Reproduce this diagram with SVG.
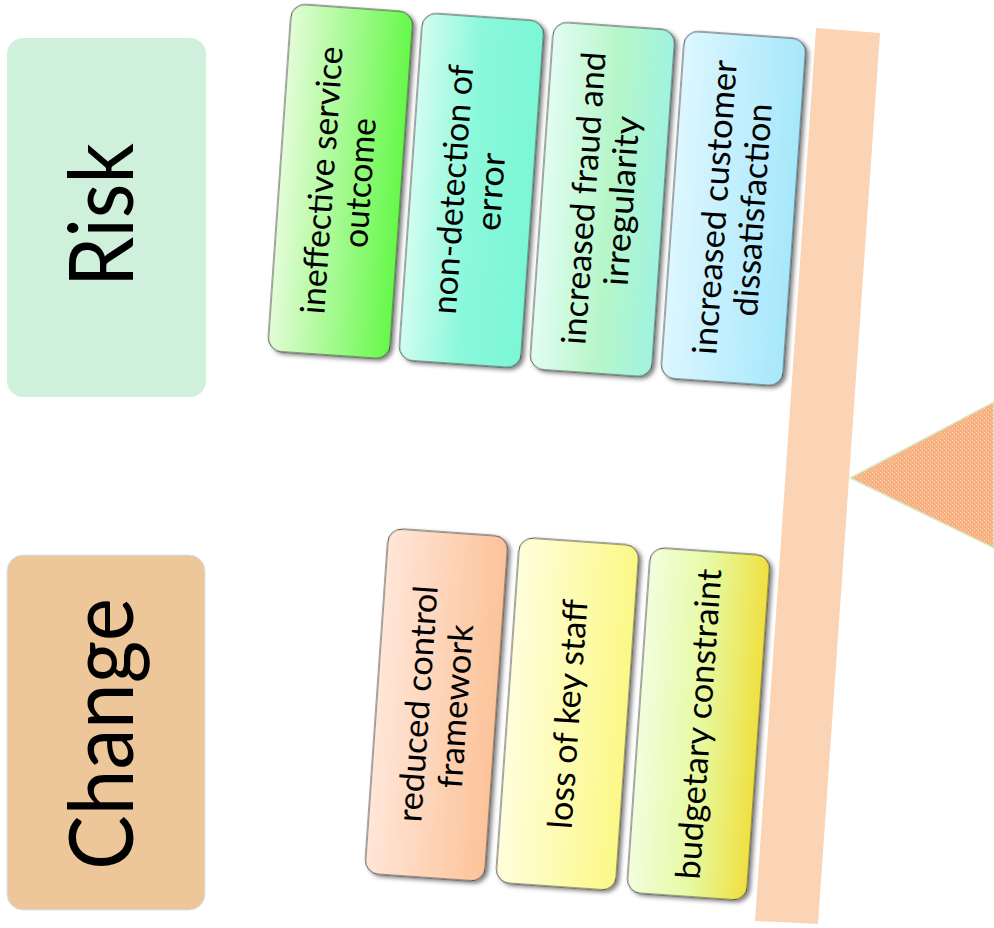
<svg xmlns="http://www.w3.org/2000/svg" width="994" height="928" viewBox="0 0 994 928">
<defs>
<style>
.lbl{font-family:Lato,"Open Sans","Liberation Sans",sans-serif;font-size:34px;fill:#000;text-anchor:middle}
.big{font-family:Lato,"Open Sans","Liberation Sans",sans-serif;font-size:90px;fill:#000;text-anchor:middle}
.item{stroke:#3a3a3a;stroke-width:0.9;filter:url(#sh)}
</style>
<filter id="sh" x="-15%" y="-10%" width="135%" height="125%">
<feDropShadow dx="3" dy="2" stdDeviation="2" flood-color="#000" flood-opacity="0.5"/>
</filter>
<pattern id="dots" width="4" height="4" patternUnits="userSpaceOnUse">
<rect width="4" height="4" fill="#F8B282"/>
<rect x="0" y="0" width="1" height="1" fill="#FCD6BC"/>
<rect x="2" y="2" width="1" height="1" fill="#FCD6BC"/>
</pattern>
<linearGradient id="g1" x1="0" y1="0" x2="1" y2="0"><stop offset="0" stop-color="#E4FCD8"/><stop offset="1" stop-color="#66F84A"/></linearGradient>
<linearGradient id="g2" x1="0" y1="0" x2="1" y2="0"><stop offset="0" stop-color="#D2FDF0"/><stop offset="0.5" stop-color="#8AF8DA"/><stop offset="1" stop-color="#7CF7D6"/></linearGradient>
<linearGradient id="g3" x1="0" y1="0" x2="1" y2="0"><stop offset="0" stop-color="#E2FDF3"/><stop offset="0.55" stop-color="#B6F6C8"/><stop offset="1" stop-color="#A0F3E0"/></linearGradient>
<linearGradient id="g4" x1="0" y1="0" x2="1" y2="0"><stop offset="0" stop-color="#DDF7FF"/><stop offset="1" stop-color="#A6E7FB"/></linearGradient>
<linearGradient id="g5" x1="0" y1="0" x2="1" y2="0"><stop offset="0" stop-color="#FFE6D8"/><stop offset="1" stop-color="#FCC399"/></linearGradient>
<linearGradient id="g6" x1="0" y1="0" x2="1" y2="0"><stop offset="0" stop-color="#FFFEDC"/><stop offset="1" stop-color="#FBF886"/></linearGradient>
<linearGradient id="g7" x1="0" y1="0" x2="1" y2="0"><stop offset="0" stop-color="#F2FEDE"/><stop offset="0.5" stop-color="#E6FAA4"/><stop offset="1" stop-color="#F0E040"/></linearGradient>
</defs>
<rect width="994" height="928" fill="#fff"/>
<g id="beam"><polygon points="816,28 880,33 818,924 755,921" fill="#FBD4B6"/></g>
<g id="fulcrum"><polygon points="850,478 994,402 994,548" fill="url(#dots)" stroke="#D6EDC6" stroke-width="1.5"/></g>
<g id="risk">
<rect x="7" y="38" width="199" height="359" rx="16" fill="#CFF0DB"/>
<text class="big" transform="translate(133,215) rotate(-90)" textLength="144" lengthAdjust="spacingAndGlyphs">Risk</text>
</g>
<g id="change">
<rect x="7" y="555" width="198" height="355" rx="16" fill="#EDC699" stroke="#D4E6EE" stroke-width="1"/>
<text class="big" transform="translate(133,734) rotate(-90)" textLength="272" lengthAdjust="spacingAndGlyphs">Change</text>
</g>
<g id="r1" transform="translate(340.5,181.5) rotate(4)">
<rect class="item" x="-61" y="-174" width="122" height="348" rx="14" fill="url(#g1)"/>
<text class="lbl" transform="rotate(-90)"><tspan x="0" y="-7" textLength="268" lengthAdjust="spacingAndGlyphs">ineffective service</tspan><tspan x="0" y="31" textLength="130" lengthAdjust="spacingAndGlyphs">outcome</tspan></text>
</g>
<g id="r2" transform="translate(471.5,190.5) rotate(4)">
<rect class="item" x="-61" y="-174" width="122" height="348" rx="14" fill="url(#g2)"/>
<text class="lbl" transform="rotate(-90)"><tspan x="0" y="-7" textLength="250" lengthAdjust="spacingAndGlyphs">non-detection of</tspan><tspan x="0" y="31" textLength="78" lengthAdjust="spacingAndGlyphs">error</tspan></text>
</g>
<g id="r3" transform="translate(602.5,199.5) rotate(4)">
<rect class="item" x="-61" y="-174" width="122" height="348" rx="14" fill="url(#g3)"/>
<text class="lbl" transform="rotate(-90)"><tspan x="0" y="-7" textLength="293" lengthAdjust="spacingAndGlyphs">increased fraud and</tspan><tspan x="0" y="31" textLength="170" lengthAdjust="spacingAndGlyphs">irregularity</tspan></text>
</g>
<g id="r4" transform="translate(733.5,208.5) rotate(4)">
<rect class="item" x="-61" y="-174" width="122" height="348" rx="14" fill="url(#g4)"/>
<text class="lbl" transform="rotate(-90)"><tspan x="0" y="-7" textLength="295" lengthAdjust="spacingAndGlyphs">increased customer</tspan><tspan x="0" y="31" textLength="213" lengthAdjust="spacingAndGlyphs">dissatisfaction</tspan></text>
</g>
<g id="c1" transform="translate(436.5,705) rotate(4)">
<rect class="item" x="-60" y="-173" width="120" height="346" rx="14" fill="url(#g5)"/>
<text class="lbl" transform="rotate(-90)"><tspan x="0" y="-7" textLength="237" lengthAdjust="spacingAndGlyphs">reduced control</tspan><tspan x="0" y="31" textLength="164" lengthAdjust="spacingAndGlyphs">framework</tspan></text>
</g>
<g id="c2" transform="translate(567.5,714) rotate(4)">
<rect class="item" x="-60" y="-173" width="120" height="346" rx="14" fill="url(#g6)"/>
<text class="lbl" transform="rotate(-90)"><tspan x="0" y="12" textLength="230" lengthAdjust="spacingAndGlyphs">loss of key staff</tspan></text>
</g>
<g id="c3" transform="translate(698.5,724) rotate(4)">
<rect class="item" x="-60" y="-173" width="120" height="346" rx="14" fill="url(#g7)"/>
<text class="lbl" transform="rotate(-90)"><tspan x="0" y="12" textLength="311" lengthAdjust="spacingAndGlyphs">budgetary constraint</tspan></text>
</g>
<g id="connectors"/>
</svg>
